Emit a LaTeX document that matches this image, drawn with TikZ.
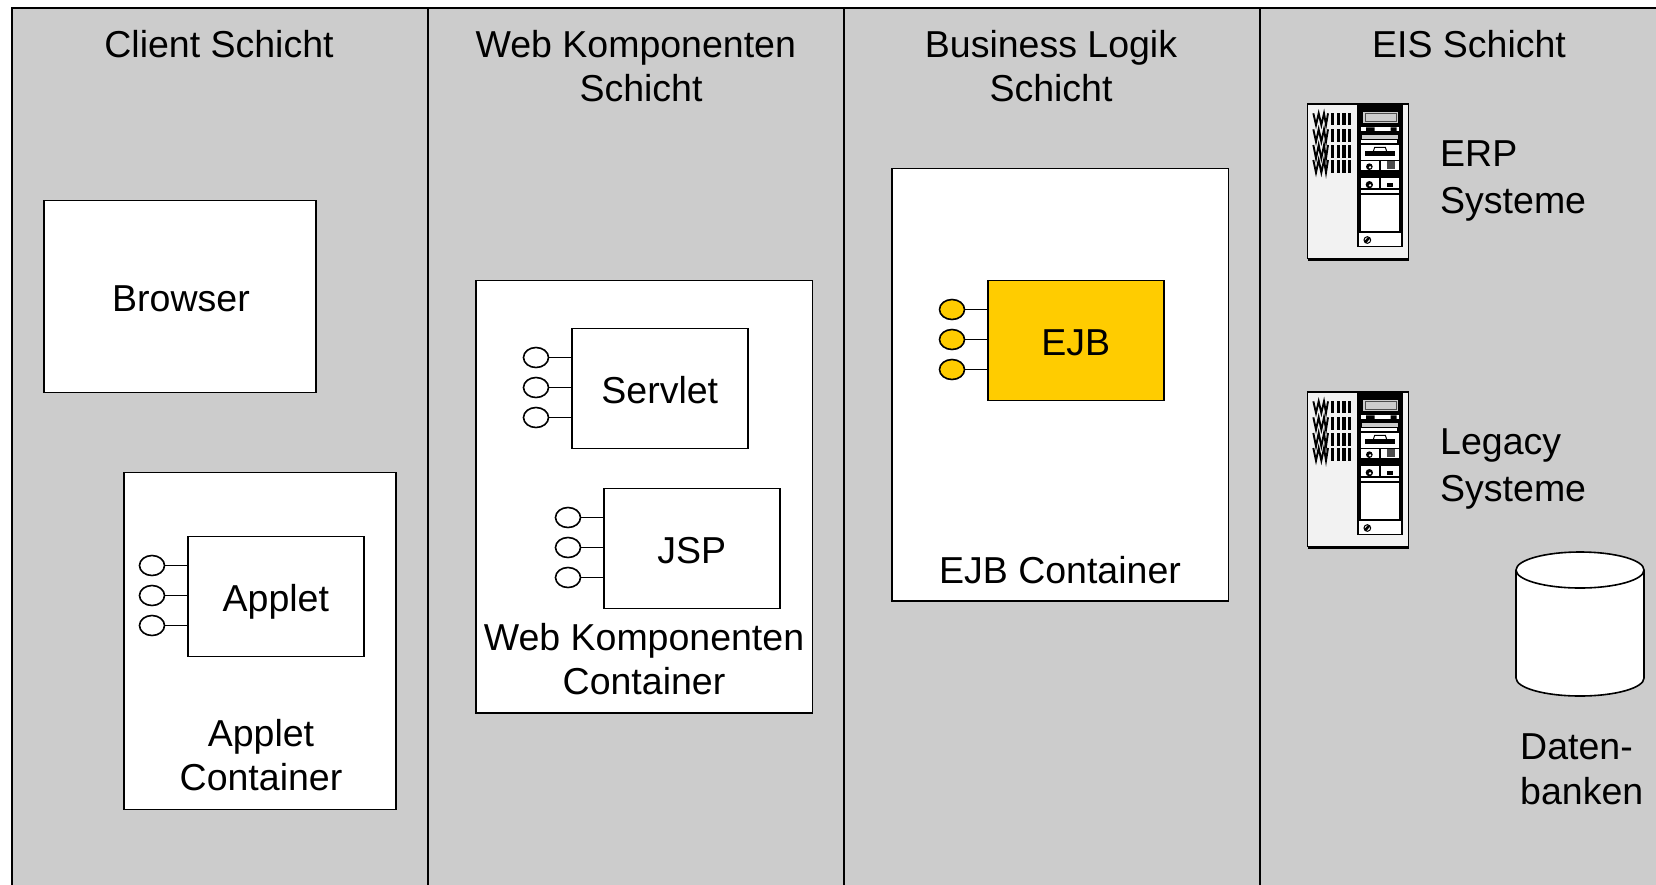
\documentclass[tikz,border=0pt]{standalone}
\usepackage{fontspec}
\setmainfont{Liberation Sans}
\usetikzlibrary{shapes.geometric}
\definecolor{panelgray}{HTML}{CCCCCC}
\definecolor{ejbgold}{HTML}{FFCC00}
\definecolor{rackgray}{HTML}{F2F2F2}
\tikzset{
  lbl/.style={inner sep=0pt,align=center,font=\fontsize{37.5}{44}\selectfont},
  lbll/.style={lbl,align=left,anchor=west},
  column/.style={draw=black,line width=1.7pt,fill=panelgray},
  whitebox/.style={draw=black,line width=1.6pt,fill=white,inner sep=0pt,anchor=north west},
  comp/.style={draw=black,line width=1.6pt,minimum width=176pt,minimum height=120pt,inner sep=0pt,anchor=north west,text height=30pt,text depth=0pt,font=\fontsize{37.5}{44}\selectfont},
  port/.style={ellipse,draw=black,line width=1.6pt,minimum width=25pt,minimum height=20pt,inner sep=0pt},
  pics/rack/.style={code={
    \begin{scope}[x=0.33333pt,y=-0.33333pt]
      \fill[black] (85,500) rectangle (386,514);
      \draw[line width=1.6pt,fill=rackgray] (82,42) rectangle (385,505);
      \foreach \yy/\hh in {70/105,118/155,165/205,210/248}{
        \draw[line width=1.9pt] (100,\yy) -- (108,\hh) -- (116,\yy) -- (124,\hh) -- (132,\yy) -- (138,\hh) -- (144,\yy);
        \foreach \xx in {152,170,187,204}{\fill[black] (\xx,\yy) rectangle ++(10,\hh-\yy);}
      }
      \fill[black] (232,42) rectangle (368,472);
      \fill[panelgray] (250,65) rectangle (355,100);
      \draw[line width=.8pt,black!70,fill=panelgray] (257,70) rectangle (348,95);
      \fill[white] (243,112) rectangle (358,124);
      \fill[black] (258,112) rectangle (284,124) (332,112) rectangle (350,124);
      \fill[panelgray] (246,135) rectangle (354,148);
      \fill[white] (243,150) rectangle (352,158);
      \fill[white] (243,165) rectangle (358,210);
      \fill[black] (255,183) rectangle (345,198);
      \draw[line width=1pt] (280,184) -- (284,172) -- (316,172) -- (320,184);
      \fill[white] (243,214) rectangle (298,240);
      \fill[black] (268,230) circle[radius=10];
      \fill[white] (270,232) circle[radius=4];
      \fill[white] (304,214) rectangle (358,240);
      \fill[black!70] (320,214) rectangle (345,238);
      \fill[white] (243,265) rectangle (298,295);
      \fill[white] (304,265) rectangle (358,295);
      \fill[black] (268,284) circle[radius=11];
      \fill[white] (270,286) circle[radius=4];
      \fill[black] (322,279) rectangle (338,292);
      \fill[white] (243,300) rectangle (358,310);
      \fill[white] (243,316) rectangle (358,424);
      \fill[white] (237,430) rectangle (362,467);
      \draw[line width=1pt] (262,450) circle[radius=10];
      \fill[black] (252,455) -- (264,441) -- (270,446) -- (258,460) -- cycle;
    \end{scope}
  }}
}
\newcommand{\component}[6]{%
  \node[comp,fill=#5] (#1) at (#2,#3) {#4};
  \foreach \k/\dy in {1/30,2/60,3/90}{
    \node[port,fill=#6] (#1p\k) at ([shift={(-35,\dy)}]#2,#3) {};
    \draw[line width=1.6pt] (#1p\k) -- (#1p\k -| #1.west);
  }%
}
\begin{document}
\begin{tikzpicture}[x=1pt,y=-1pt]
\useasboundingbox (0,0) rectangle (1656,884);
\fill[white] (0,0) rectangle (1656,884);
% columns
\path[column] (12,8) rectangle (428,900);
\path[column] (428,8) rectangle (844,900);
\path[column] (844,8) rectangle (1260,900);
\path[column] (1260,8) rectangle (1670,900);
% headings
\node[lbl] (h1) at (219,44) {Client Schicht};
\node[lbl] (h2) at (641,66) {Web Komponenten\ \mbox{}\\Schicht};
\node[lbl] (h3) at (1051,66) {Business Logik\\Schicht};
\node[lbl] (h4) at (1469,44) {EIS Schicht};
% client
\node[whitebox,minimum width=272pt,minimum height=192pt] (browser) at (43,199.5) {};
\node[lbl] (browsert) at (181,299) {Browser};
\node[whitebox,minimum width=272pt,minimum height=337pt] (appletc) at (123,471.5) {};
\component{applet}{187}{535.5}{Applet}{white}{white}
\node[lbl] (appletct) at (261,755) {Applet\\Container};
% web
\node[whitebox,minimum width=336.5pt,minimum height=432.5pt] (webc) at (475,279.5) {};
\component{servlet}{571}{327.5}{Servlet}{white}{white}
\component{jsp}{603}{487.5}{JSP}{white}{white}
\node[lbl] (webct) at (644,659) {Web Komponenten\\Container};
% business
\node[whitebox,minimum width=336.5pt,minimum height=432.5pt] (ejbc) at (891,167.5) {};
\component{ejb}{987}{279.5}{EJB}{ejbgold}{ejbgold}
\node[lbl] (ejbct) at (1060,570) {EJB Container};
% EIS
\pic at (1280,90) {rack};
\pic at (1280,378) {rack};
\node[lbll,font=\fontsize{37.5}{46.5}\selectfont] (erp) at (1440,181) {ERP\\Systeme};
\node[lbll,font=\fontsize{37.5}{46.5}\selectfont] (legacy) at (1440,469) {Legacy\\Systeme};
\draw[line width=1.6pt,fill=white] (1516,570) -- (1516,678) arc[start angle=180,end angle=360,x radius=64pt,y radius=18pt] -- (1644,570);
\draw[line width=1.6pt,fill=white] (1580,570) ellipse[x radius=64pt,y radius=18pt];
\node[lbll,font=\fontsize{37.5}{45}\selectfont] (db) at (1520,769) {Daten-\\banken};
\end{tikzpicture}
\end{document}
